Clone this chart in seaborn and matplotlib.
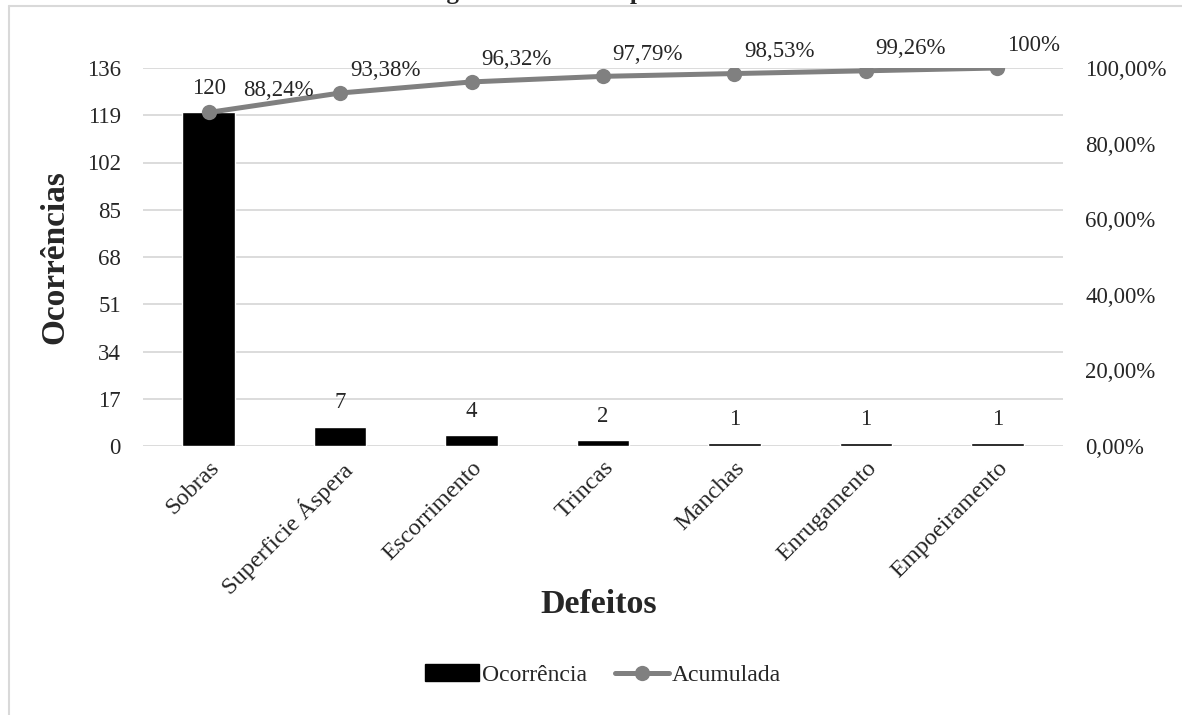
import matplotlib
matplotlib.use("Agg")
import matplotlib.pyplot as plt
import seaborn as sns
import numpy as np
import pandas as pd
from matplotlib.patches import Patch
from matplotlib.lines import Line2D

categories = ["Sobras", "Superficie Áspera", "Escorrimento", "Trincas",
              "Manchas", "Enrugamento", "Empoeiramento"]
occurrences = [120, 7, 4, 2, 1, 1, 1]
cumulative_pct = [88.24, 93.38, 96.32, 97.79, 98.53, 99.26, 100.0]
left_ticks = [0, 17, 34, 51, 68, 85, 102, 119, 136]
right_ticks = [0, 20, 40, 60, 80, 100]
title_text = "Diagrama de Pareto para Defeitos"

sns.set_theme(style="white")
plt.rcParams["font.family"] = ["Liberation Serif", "DejaVu Serif"]

FS = 16.5

df = pd.DataFrame({"Defeito": categories, "Ocorrência": occurrences,
                   "Acumulada": np.array(cumulative_pct) / 100.0,
                   "pos": np.arange(len(categories))})

fig = plt.figure(figsize=(11.82, 7.15), dpi=100)
ax = fig.add_axes([143 / 1182, 1 - 446 / 715, 920 / 1182, 378 / 715])

sns.barplot(data=df, x="Defeito", y="Ocorrência", color="black",
            width=0.4, ax=ax, saturation=1)
ax.set_ylim(0, 136)
ax.set_xlim(-0.5, len(categories) - 0.5)
ax.set_yticks(left_ticks)
ax.set_yticklabels([str(t) for t in left_ticks], fontsize=FS)
ax.yaxis.grid(True, color="#d9d9d9", linewidth=1.3)
ax.set_axisbelow(True)
for s in ax.spines.values():
    s.set_visible(False)
ax.tick_params(axis="both", length=0)
ax.tick_params(axis="y", pad=16)
ax.set_xticks(range(len(categories)))
ax.set_xticklabels(categories, rotation=45, ha="right", rotation_mode="anchor",
                   fontsize=17.5)
ax.tick_params(axis="x", pad=8)
ax.set_xlabel("Defeitos", fontsize=24.5, fontweight="bold", va="center")
ax.xaxis.set_label_coords(0.495, -0.42)
ax.set_ylabel("Ocorrências", fontsize=24, fontweight="bold", labelpad=12)

for i, v in enumerate(occurrences):
    ax.annotate(str(v), (i, v), xytext=(0, 17), textcoords="offset points",
                ha="center", va="center", fontsize=FS)

ax2 = ax.twinx()
sns.lineplot(data=df, x="pos", y="Acumulada", color="#808080", linewidth=3.6,
             marker="o", markersize=11, markeredgewidth=0, ax=ax2)
ax2.set_ylim(0, 1.0)
ax2.set_xlim(-0.5, len(categories) - 0.5)
ax2.set_yticks([t / 100 for t in right_ticks])
ax2.set_yticklabels([f"{t:.2f}%".replace(".", ",") for t in right_ticks], fontsize=FS)
ax2.set_ylabel("")
ax2.set_xlabel("")
for s in ax2.spines.values():
    s.set_visible(False)
ax2.tick_params(axis="both", length=0)
ax2.tick_params(axis="y", pad=16)
ax2.grid(False)

for i, v in enumerate(cumulative_pct):
    label = f"{v:.0f}%" if float(v).is_integer() else f"{v:.2f}%".replace(".", ",")
    dx = 25 if i == 0 else 7
    ax2.annotate(label, (i, v / 100), xytext=(dx, 16), textcoords="offset points",
                 ha="left", va="center", fontsize=FS)

handles = [Patch(facecolor="black", edgecolor="black", label="Ocorrência"),
           Line2D([0], [0], color="#808080", linewidth=3.6, marker="o",
                  markersize=11, markeredgewidth=0, label="Acumulada")]
fig.legend(handles=handles, loc="center", bbox_to_anchor=(0.51, 1 - 675 / 715),
           ncol=2, frameon=False, fontsize=17, handlelength=2.3,
           handletextpad=0.1, columnspacing=1.2)

fig.text(0.5, 1.0 + 1 / 715, title_text, ha="center", va="baseline",
         fontsize=18, fontweight="bold")

border_c = "#d9d9d9"
fig.add_artist(Line2D([9 / 1182, 1], [1 - 6 / 715, 1 - 6 / 715],
                      transform=fig.transFigure, color=border_c, linewidth=1.5))
fig.add_artist(Line2D([9 / 1182, 9 / 1182], [0, 1 - 6 / 715],
                      transform=fig.transFigure, color=border_c, linewidth=1.5))

fig.savefig("out.png", dpi=100)
